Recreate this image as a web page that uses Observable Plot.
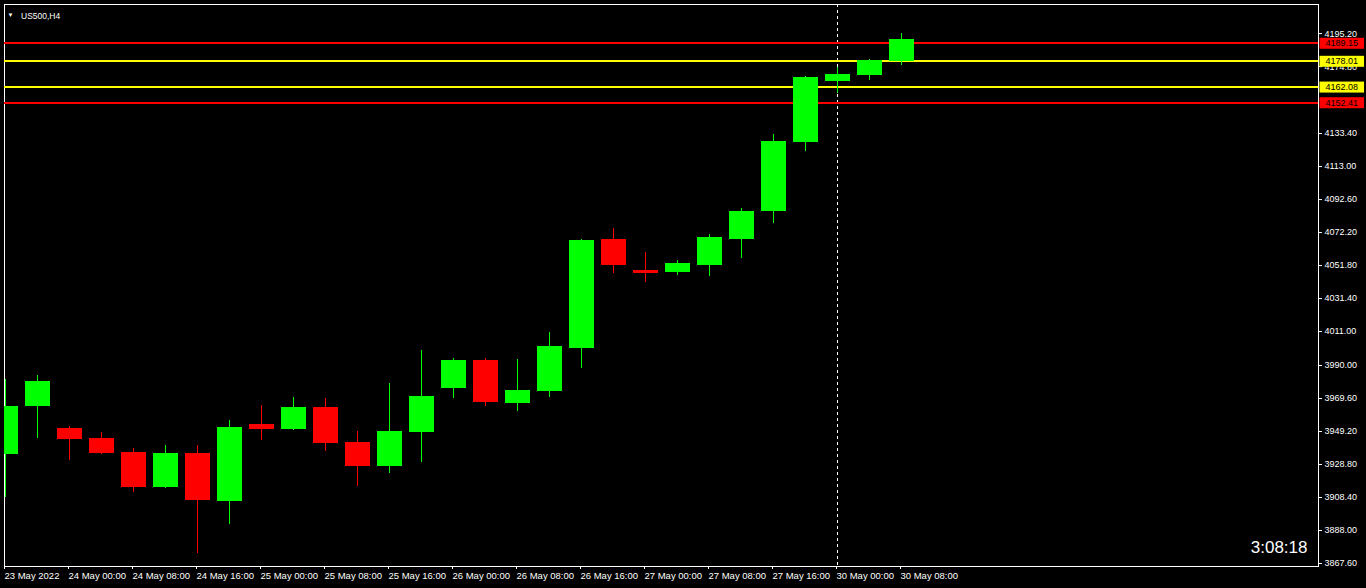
<!DOCTYPE html>
<html>
<head>
<meta charset="utf-8">
<script src="https://cdn.jsdelivr.net/npm/d3@7"></script>
<script src="https://cdn.jsdelivr.net/npm/@observablehq/plot@0.6"></script>
<style>
  html, body { margin: 0; padding: 0; background: #000; overflow: hidden; }
  #chart { width: 1366px; height: 588px; }
</style>
</head>
<body>
<div id="chart"></div>
<script>
// ---- data (H4 bars, US500) ----
const times = [
  "23 May 16:00", "23 May 20:00",
  "24 May 00:00", "24 May 04:00", "24 May 08:00", "24 May 12:00", "24 May 16:00", "24 May 20:00",
  "25 May 00:00", "25 May 04:00", "25 May 08:00", "25 May 12:00", "25 May 16:00", "25 May 20:00",
  "26 May 00:00", "26 May 04:00", "26 May 08:00", "26 May 12:00", "26 May 16:00", "26 May 20:00",
  "27 May 00:00", "27 May 04:00", "27 May 08:00", "27 May 12:00", "27 May 16:00", "27 May 20:00",
  "30 May 00:00", "30 May 04:00", "30 May 08:00"
];
const open  = [3935.0, 3964.7, 3951.1, 3944.9, 3936.2, 3914.6, 3935.6, 3905.9, 3953.5, 3950.4, 3964.0, 3942.4, 3927.6, 3948.6, 3975.8, 3993.1, 3966.5, 3973.9, 4000.5, 4067.9, 4048.7, 4047.5, 4051.8, 4067.9, 4085.2, 4127.8, 4165.6, 4169.3, 4177.9];
const high  = [3981.3, 3983.8, 3952.3, 3948.6, 3938.7, 3940.5, 3940.5, 3956.0, 3965.3, 3970.2, 3969.6, 3949.2, 3978.9, 3999.3, 3994.3, 3994.3, 3993.7, 4010.4, 4067.9, 4074.7, 4059.9, 4054.9, 4071.0, 4087.1, 4132.8, 4168.7, 4174.2, 4179.2, 4195.2];
const low   = [3908.6, 3945.1, 3931.5, 3935.0, 3911.5, 3914.0, 3873.8, 3891.7, 3943.6, 3949.8, 3936.8, 3915.2, 3923.2, 3930.0, 3969.6, 3964.7, 3961.6, 3970.2, 3988.1, 4046.9, 4041.3, 4045.6, 4045.0, 4056.1, 4078.0, 4122.3, 4158.1, 4166.2, 4175.5];
const close = [3964.7, 3980.1, 3944.3, 3935.6, 3914.6, 3935.6, 3906.5, 3951.7, 3950.4, 3964.0, 3941.8, 3927.6, 3949.2, 3970.8, 3993.1, 3967.1, 3974.5, 4001.7, 4067.3, 4051.8, 4046.9, 4053.1, 4069.1, 4085.2, 4128.5, 4168.0, 4169.9, 4178.5, 4191.5];

const xTickTimes  = ["23 May 16:00", "24 May 00:00", "24 May 08:00", "24 May 16:00", "25 May 00:00", "25 May 08:00", "25 May 16:00",
                     "26 May 00:00", "26 May 08:00", "26 May 16:00", "27 May 00:00", "27 May 08:00", "27 May 16:00", "30 May 00:00", "30 May 08:00"];
const xTickLabels = ["23 May 2022", "24 May 00:00", "24 May 08:00", "24 May 16:00", "25 May 00:00", "25 May 08:00", "25 May 16:00",
                     "26 May 00:00", "26 May 08:00", "26 May 16:00", "27 May 00:00", "27 May 08:00", "27 May 16:00", "30 May 00:00", "30 May 08:00"];
const yTicks = [3867.6, 3888.0, 3908.4, 3928.8, 3949.2, 3969.6, 3990.0, 4011.0, 4031.4, 4051.8, 4072.2, 4092.6, 4113.0, 4133.4, 4174.8, 4195.2];

const redLevels = [4189.15, 4152.41];
const yellowLevels = [4178.01, 4162.08];
const separatorTime = "30 May 00:00";
const symbolLabel = "US500,H4";
const timerLabel = "3:08:18";

// ---- layout ----
const W = 1366, H = 588;
const mL = 4, mR = 48, mT = 4, mB = 22;
const barStep = 32;       // px between bars
const firstBarOffset = 1; // px from frame left to first bar centre
const bodyWidth = 25;
const GREEN = "#00ff00", RED = "#ff0000", YELLOW = "#ffff00";

const candles = times.map((t, i) => ({i, t, o: open[i], h: high[i], l: low[i], c: close[i]}));
const up = candles.filter(d => d.c >= d.o);
const down = candles.filter(d => d.c < d.o);
const idxOf = t => times.indexOf(t);
const xTickIdx = xTickTimes.map(idxOf);
const sepIdx = idxOf(separatorTime);

const frameW = W - mL - mR;
const xDomain = [-firstBarOffset / barStep, (frameW - firstBarOffset) / barStep];

const chart = Plot.plot({
  width: W,
  height: H,
  marginLeft: mL,
  marginRight: mR,
  marginTop: mT,
  marginBottom: mB,
  style: {background: "#000", color: "#fff", fontFamily: "'Liberation Sans', Arial, sans-serif"},
  x: {type: "linear", domain: xDomain, axis: null, label: null},
  y: {type: "linear", domain: [3865.75, 4213.2], axis: null, label: null},
  marks: [
    Plot.frame({stroke: "#fff"}),
    Plot.ruleX([sepIdx], {x: d => d, stroke: "#fff", strokeDasharray: "3,3"}),
    Plot.ruleY(redLevels, {y: d => d, stroke: RED, strokeWidth: 2, shapeRendering: "crispEdges"}),
    Plot.ruleY(yellowLevels, {y: d => d, stroke: YELLOW, strokeWidth: 2, shapeRendering: "crispEdges"}),
    // wicks
    Plot.ruleX(up, {x: "i", y1: "l", y2: "h", stroke: GREEN, strokeWidth: 1, clip: true, shapeRendering: "crispEdges"}),
    Plot.ruleX(down, {x: "i", y1: "l", y2: "h", stroke: RED, strokeWidth: 1, clip: true, shapeRendering: "crispEdges"}),
    // bodies
    Plot.ruleX(up, {x: "i", y1: "o", y2: "c", stroke: GREEN, strokeWidth: bodyWidth, clip: true, shapeRendering: "crispEdges"}),
    Plot.ruleX(down, {x: "i", y1: "o", y2: "c", stroke: RED, strokeWidth: bodyWidth, clip: true, shapeRendering: "crispEdges"}),
    // axes
    Plot.axisY(yTicks, {anchor: "right", label: null, tickSize: 3, tickPadding: 3, fontSize: 9, tickFormat: d => d.toFixed(2), stroke: "#fff"}),
    Plot.axisX(xTickIdx, {anchor: "bottom", label: null, tickSize: 3, tickPadding: 2.5, fontSize: 9.5, textAnchor: "start", dx: -1,
      tickFormat: i => xTickLabels[xTickIdx.indexOf(i)], stroke: "#fff"}),
    // level price labels
    Plot.text(redLevels, {y: d => d, text: d => d.toFixed(2), frameAnchor: "right", textAnchor: "start", lineAnchor: "middle", dx: 7, fontSize: 9, fill: "#000"}),
    Plot.text(yellowLevels, {y: d => d, text: d => d.toFixed(2), frameAnchor: "right", textAnchor: "start", lineAnchor: "middle", dx: 7, fontSize: 9, fill: "#000"}),
    // symbol title
    Plot.text(["\u25BC"], {frameAnchor: "top-left", text: d => d, textAnchor: "start", lineAnchor: "middle", dx: 3, dy: 11, fontSize: 6, fill: "#fff"}),
    Plot.text([symbolLabel], {frameAnchor: "top-left", text: d => d, textAnchor: "start", lineAnchor: "middle", dx: 16.5, dy: 11.5, fontSize: 8.5, fill: "#fff"}),
    // timer
    Plot.text([timerLabel], {frameAnchor: "bottom-right", text: d => d, textAnchor: "end", lineAnchor: "middle", dx: -11, dy: -18.5, fontSize: 17, fill: "#fff"})
  ]
});

document.getElementById("chart").appendChild(chart);

// coloured background boxes behind the level price labels
const svg = d3.select(chart);
const redSet = new Set(redLevels.map(d => d.toFixed(2)));
const yellowSet = new Set(yellowLevels.map(d => d.toFixed(2)));
svg.selectAll("text").each(function() {
  const s = this.textContent;
  const col = redSet.has(s) ? RED : yellowSet.has(s) ? YELLOW : null;
  if (!col) return;
  const b = this.getBBox();
  const cy = b.y + b.height / 2;
  const g = this.parentNode;
  const rect = document.createElementNS("http://www.w3.org/2000/svg", "rect");
  rect.setAttribute("x", b.x - 6);
  rect.setAttribute("y", cy - 5.5);
  rect.setAttribute("width", b.width + 12);
  rect.setAttribute("height", 11);
  rect.setAttribute("fill", col);
  const t = this.getAttribute("transform");
  if (t) rect.setAttribute("transform", t);
  g.insertBefore(rect, this);
});
</script>
</body>
</html>
